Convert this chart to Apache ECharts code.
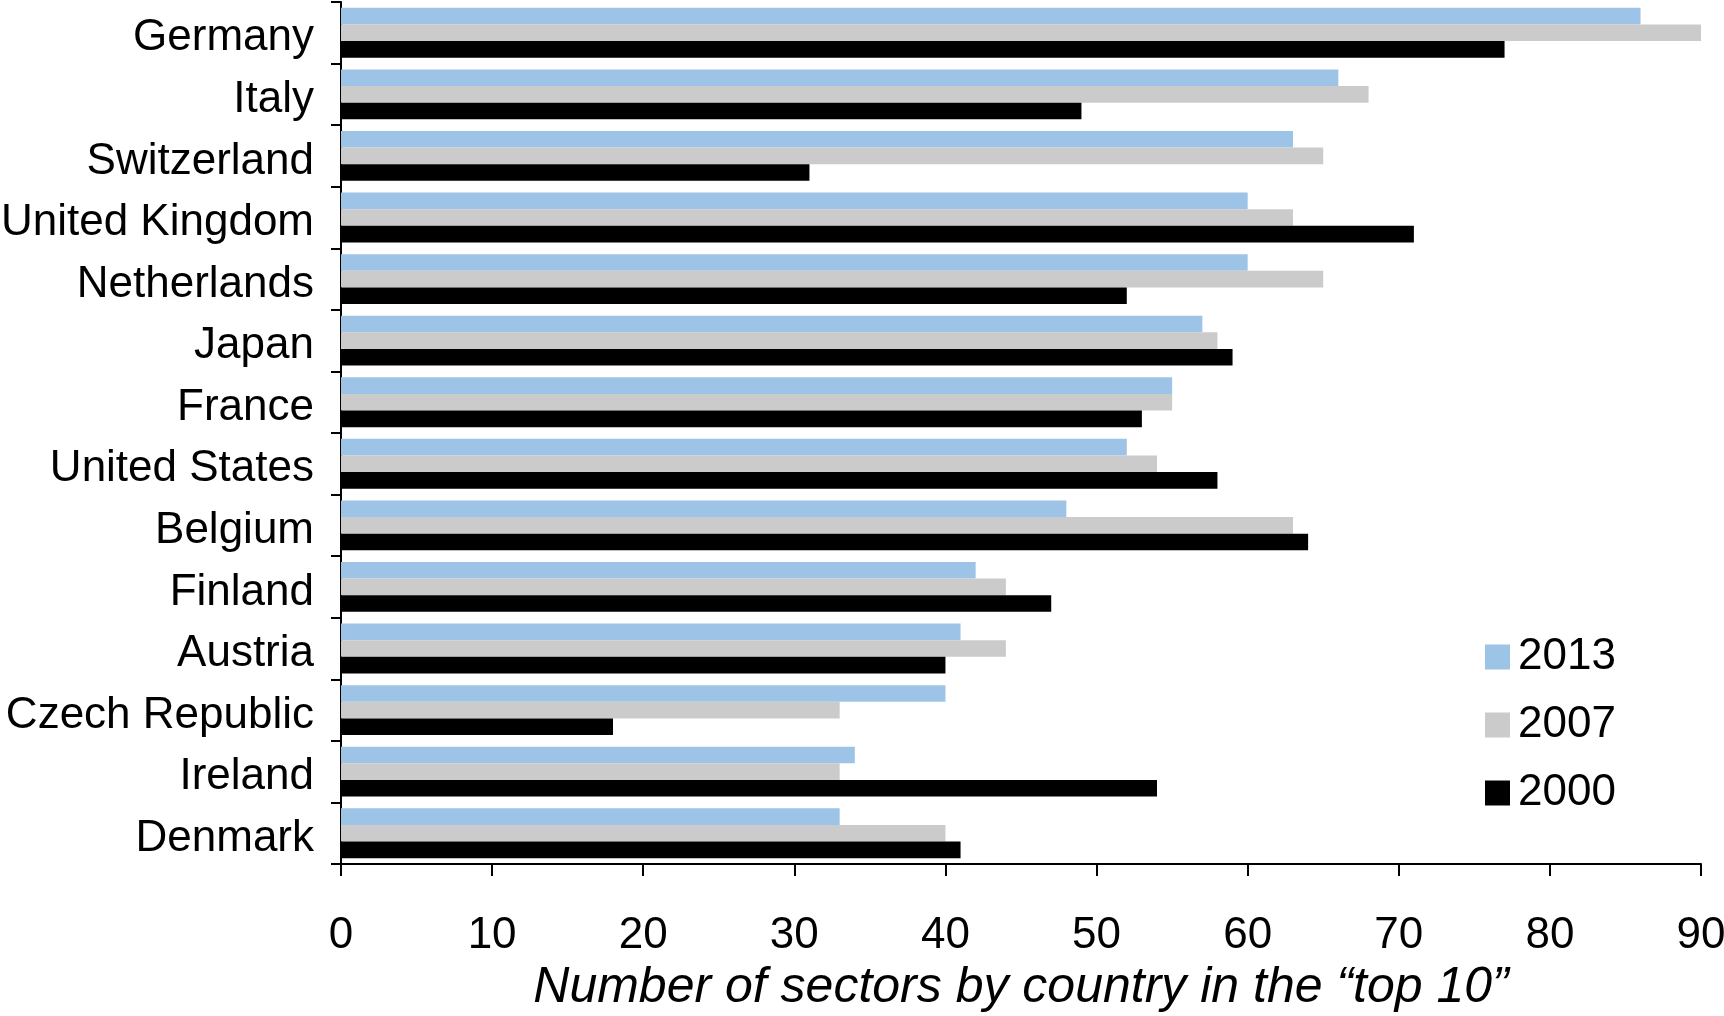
<!DOCTYPE html>
<html>
<head>
<meta charset="utf-8">
<script src="https://cdn.jsdelivr.net/npm/echarts@6/dist/echarts.min.js"></script>
<style>
html,body{margin:0;padding:0;background:#fff;}
#chart{width:1724px;height:1016px;}
</style>
</head>
<body>
<div id="chart"></div>
<script>
const countries = ["Germany","Italy","Switzerland","United Kingdom","Netherlands","Japan","France","United States","Belgium","Finland","Austria","Czech Republic","Ireland","Denmark"];
const v2013 = [86,66,63,60,60,57,55,52,48,42,41,40,34,33];
const v2007 = [90,68,65,63,65,58,55,54,63,44,44,33,33,40];
const v2000 = [77,49,31,71,52,59,53,58,64,47,40,18,54,41];
const xTicks = [0,10,20,30,40,50,60,70,80,90];
const seriesNames = ["2013","2007","2000"];
const colors = ["#9DC3E6","#CBCBCB","#000000"];

const chart = echarts.init(document.getElementById('chart'), null, {renderer:'canvas'});
const font = "'Liberation Sans', Arial, sans-serif";
chart.setOption({
  animation:false,
  backgroundColor:'#fff',
  grid:{left:341, right:23, top:2, bottom:152, containLabel:false, outerBoundsMode:'none'},
  legend:{
    orient:'vertical', left:1480, top:630,
    itemWidth:25, itemHeight:25, itemGap:24,
    icon:'rect',
    textStyle:{fontFamily:font, fontSize:44, color:'#000', padding:[0,0,0,3]},
    data:seriesNames
  },
  xAxis:{
    type:'value', min:xTicks[0], max:xTicks[xTicks.length-1], interval:10,
    axisLine:{show:true, lineStyle:{color:'#000', width:2}},
    axisTick:{show:true, length:12, lineStyle:{color:'#000', width:2}},
    splitLine:{show:false},
    axisLabel:{fontFamily:font, fontSize:44, color:'#000', margin:50},
    name:'Number of sectors by country in the \u201Ctop 10\u201D',
    nameLocation:'middle', nameGap:99,
    nameTextStyle:{fontFamily:font, fontSize:50, fontStyle:'italic', color:'#000'}
  },
  yAxis:{
    type:'category', data:countries, inverse:true,
    axisLine:{show:true, lineStyle:{color:'#000', width:2}},
    axisTick:{show:true, length:10, lineStyle:{color:'#000', width:2}},
    axisLabel:{
      margin:27,
      formatter: function(v){ return '{a|' + v + '}'; },
      rich:{a:{fontFamily:font, fontSize:44, color:'#000', padding:[11,0,0,0]}}
    }
  },
  series:[
    {name:seriesNames[0], type:'bar', data:v2013, itemStyle:{color:colors[0]}, barGap:'0%', barCategoryGap:'19%'},
    {name:seriesNames[1], type:'bar', data:v2007, itemStyle:{color:colors[1]}, barGap:'0%', barCategoryGap:'19%'},
    {name:seriesNames[2], type:'bar', data:v2000, itemStyle:{color:colors[2]}, barGap:'0%', barCategoryGap:'19%'}
  ]
});
</script>
</body>
</html>
